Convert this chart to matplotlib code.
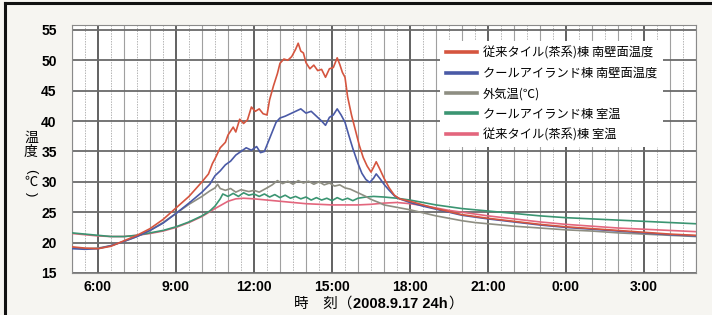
import matplotlib
matplotlib.use('Agg')
import matplotlib.pyplot as plt
from matplotlib.lines import Line2D

# ── Data (hours from 5:00 on 9/17 to 5:00 next day) ──────────────────────────
red_t = [5.0, 5.5, 6.0, 6.5, 7.0, 7.5, 8.0, 8.5, 9.0, 9.5, 10.0, 10.25, 10.4, 10.5, 10.7,
         10.9, 11.0, 11.2, 11.3, 11.45, 11.6, 11.75, 11.9, 12.05, 12.2, 12.35, 12.5, 12.6,
         12.75, 12.9, 13.0, 13.15, 13.3, 13.45, 13.6, 13.7, 13.8, 13.9, 14.0, 14.15, 14.3,
         14.45, 14.6, 14.75, 14.9, 15.05, 15.2, 15.3, 15.4, 15.5, 15.6, 15.75, 15.9, 16.05,
         16.2, 16.35, 16.5, 16.6, 16.7, 16.85, 17.0, 17.2, 17.4, 17.6, 18.0, 18.5, 19.0,
         19.5, 20.0, 20.5, 21.0, 22.0, 23.0, 24.0, 25.0, 26.0, 27.0, 28.0, 29.0]
red_v = [19.3, 19.1, 19.0, 19.4, 20.3, 21.2, 22.3, 23.8, 25.7, 27.6, 30.0, 31.3, 33.0, 33.8, 35.6,
         36.5, 37.7, 39.0, 38.2, 40.3, 39.6, 40.2, 42.3, 41.6, 42.0, 41.2, 41.0, 43.5,
         45.8, 47.8, 49.5, 50.2, 50.0, 50.6, 51.8, 52.8, 51.5, 51.2, 49.6, 48.6, 49.2,
         48.3, 48.5, 47.2, 48.6, 48.8, 50.4, 49.3, 48.0, 47.2, 44.0, 41.0, 38.5, 36.0,
         34.0, 32.6, 31.6, 32.4, 33.3, 32.0, 30.6, 29.0, 27.8, 27.2, 26.8, 26.2, 25.6,
         25.1, 24.6, 24.3, 24.0, 23.5, 23.0, 22.6, 22.3, 22.0, 21.7, 21.4, 21.2]

blue_t = [5.0, 5.5, 6.0, 6.5, 7.0, 7.5, 8.0, 8.5, 9.0, 9.5, 10.0, 10.3, 10.5, 10.7, 10.9,
          11.1, 11.3, 11.5, 11.7, 11.9, 12.1, 12.25, 12.4, 12.55, 12.7, 12.85, 13.0, 13.2,
          13.4, 13.6, 13.8, 14.0, 14.2, 14.4, 14.6, 14.75, 14.9, 15.05, 15.2, 15.35, 15.5,
          15.65, 15.8, 16.0, 16.15, 16.3, 16.45, 16.6, 16.7, 16.85, 17.0, 17.2, 17.4, 17.6,
          18.0, 18.5, 19.0, 19.5, 20.0, 20.5, 21.0, 22.0, 23.0, 24.0, 25.0, 26.0, 27.0,
          28.0, 29.0]
blue_v = [19.0, 18.9, 19.0, 19.5, 20.2, 21.0, 22.0, 23.2, 24.8, 26.5, 28.3, 29.6, 31.0, 31.8, 32.8,
          33.4, 34.4, 35.0, 35.6, 35.2, 35.8, 34.8, 35.0, 36.6, 38.2, 39.8, 40.5, 40.8,
          41.2, 41.6, 42.0, 41.3, 41.6, 40.8, 40.0, 39.3, 40.6, 41.0, 42.0, 41.0, 39.8,
          37.6, 35.5, 33.0, 31.4, 30.4, 29.9, 30.6, 31.3, 30.5, 29.6, 28.6, 27.7, 27.2,
          26.6, 26.0, 25.5, 25.0, 24.5, 24.2, 23.9, 23.4, 22.9, 22.5, 22.2, 21.9, 21.6,
          21.3, 21.1]

gray_t = [5.0, 5.5, 6.0, 6.5, 7.0, 7.5, 8.0, 8.5, 9.0, 9.5, 10.0, 10.3, 10.5, 10.6, 10.7,
          10.9, 11.1, 11.3, 11.5, 11.8, 12.0, 12.2, 12.5, 12.7, 12.9, 13.1, 13.3, 13.5,
          13.7, 13.9, 14.1, 14.3, 14.5, 14.7, 14.9, 15.1, 15.3, 15.5, 15.7, 15.9, 16.1,
          16.3, 16.5, 16.8, 17.0, 17.5, 18.0, 18.5, 19.0, 19.5, 20.0, 20.5, 21.0, 22.0,
          23.0, 24.0, 25.0, 26.0, 27.0, 28.0, 29.0]
gray_v = [19.2, 19.0, 19.1, 19.5, 20.2, 21.0, 22.0, 23.3, 24.8, 26.3, 27.6, 28.5, 29.0, 29.6, 28.9,
          28.6, 28.9, 28.3, 28.7, 28.4, 28.6, 28.3, 29.0, 29.5, 30.2, 29.7, 30.1, 29.6,
          30.2, 29.8, 30.1, 29.6, 30.0, 29.5, 29.8, 29.3, 29.5, 29.0, 28.8, 28.4, 28.0,
          27.6, 27.1, 26.6, 26.2, 25.8, 25.4, 24.9, 24.4, 24.0, 23.6, 23.3, 23.1, 22.7,
          22.4, 22.1, 21.9, 21.6, 21.4, 21.2, 21.0]

green_t = [5.0, 5.5, 6.0, 6.5, 7.0, 7.5, 8.0, 8.5, 9.0, 9.5, 10.0, 10.3, 10.5, 10.7, 10.8,
           11.0, 11.2, 11.4, 11.6, 11.8, 12.0, 12.2, 12.4, 12.6, 12.8, 13.0, 13.2, 13.4,
           13.6, 13.8, 14.0, 14.2, 14.4, 14.6, 14.8, 15.0, 15.2, 15.4, 15.6, 15.8, 16.0,
           16.3, 16.6, 17.0, 17.5, 18.0, 18.5, 19.0, 19.5, 20.0, 20.5, 21.0, 22.0, 23.0,
           24.0, 25.0, 26.0, 27.0, 28.0, 29.0]
green_v = [21.6, 21.4, 21.2, 21.0, 21.0, 21.2, 21.6, 22.0, 22.6, 23.4, 24.4, 25.2, 26.0, 27.2, 28.0,
           27.6, 28.1, 27.6, 28.2, 27.8, 28.0, 27.6, 28.0, 27.5, 27.9, 27.4, 27.8, 27.3,
           27.6, 27.2, 27.5, 27.0, 27.4, 27.0, 27.3, 26.9, 27.4, 27.0, 27.3, 26.9, 27.3,
           27.5, 27.6, 27.5, 27.3, 27.0, 26.6, 26.2, 25.9, 25.6, 25.4, 25.2, 24.8, 24.4,
           24.1, 23.9, 23.7, 23.5, 23.3, 23.1]

pink_t = [5.0, 5.5, 6.0, 6.5, 7.0, 7.5, 8.0, 8.5, 9.0, 9.5, 10.0, 10.5, 11.0, 11.3, 11.6,
          12.0, 12.5, 13.0, 13.5, 14.0, 14.5, 15.0, 15.5, 16.0, 16.5, 17.0, 17.5, 18.0,
          18.5, 19.0, 19.5, 20.0, 20.5, 21.0, 22.0, 23.0, 24.0, 25.0, 26.0, 27.0, 28.0, 29.0]
pink_v = [21.5, 21.3, 21.1, 21.0, 21.0, 21.2, 21.5, 21.9, 22.5, 23.3, 24.3, 25.6, 26.8, 27.2, 27.3,
          27.2, 27.0, 26.8, 26.6, 26.4, 26.3, 26.2, 26.2, 26.2, 26.3, 26.5, 26.6, 26.4,
          26.1, 25.7, 25.3, 25.0, 24.7, 24.4, 23.9, 23.4, 23.0, 22.7, 22.4, 22.2, 22.0, 21.8]

labels = ['従来タイル(茶系)棟 南壁面温度', 'クールアイランド棟 南壁面温度', '外気温(℃)',
          'クールアイランド棟 室温', '従来タイル(茶系)棟 室温']
x_ticks = [6, 9, 12, 15, 18, 21, 24, 27]
x_ticklabels = ['6:00', '9:00', '12:00', '15:00', '18:00', '21:00', '0:00', '3:00']
y_ticks = [15, 20, 25, 30, 35, 40, 45, 50, 55]

# ── Style ─────────────────────────────────────────────────────────────────────
BG = '#f6f5f1'
COLORS = ['#d5553f', '#4a5aa6', '#8e8e82', '#3b9572', '#e3667d']
JP = ['Noto Sans CJK JP', 'DejaVu Sans']
NUM = ['Liberation Sans', 'DejaVu Sans']

fig = plt.figure(figsize=(7.12, 3.15), dpi=100, facecolor=BG)
W, H = 712, 315
ax = fig.add_axes([72 / W, 1 - 273 / H, (696 - 72) / W, (273 - 25) / H])
ax.set_facecolor('white')

# frame lines of the original box (top and left)
fig.add_artist(Line2D([5 / W, 5 / W], [0, 1 - 3 / H], color='#111', lw=2.2))
fig.add_artist(Line2D([5 / W, 1], [1 - 3 / H, 1 - 3 / H], color='#111', lw=2.2))

# ── Grid ──────────────────────────────────────────────────────────────────────
for h in range(5, 30):
    ax.axvline(h + 0.5, color='#b5b5b5', lw=0.7, ls=(0, (1.5, 1.2)), zorder=0)
    if h % 3 == 0:
        ax.axvline(h, color='#555555', lw=1.3, zorder=0)
    else:
        ax.axvline(h, color='#a0a0a0', lw=0.8, zorder=0)
for y in y_ticks:
    ax.axhline(y, color='#6a6a6a', lw=1.3, zorder=0)

# ── Lines ─────────────────────────────────────────────────────────────────────
series = [(red_t, red_v), (blue_t, blue_v), (gray_t, gray_v), (green_t, green_v), (pink_t, pink_v)]
for i in [4, 3, 2, 1, 0]:
    t, v = series[i]
    ax.plot(t, v, color=COLORS[i], lw=1.2, zorder=8 - i)

ax.set_xlim(5, 29)
ax.set_ylim(15, 55.8)
ax.set_xticks(x_ticks)
ax.set_xticklabels(x_ticklabels)
ax.set_yticks(y_ticks)
ax.tick_params(axis='x', length=0, pad=5)
ax.tick_params(axis='y', length=0, pad=11)
for lab in ax.get_xticklabels() + ax.get_yticklabels():
    lab.set_fontfamily(NUM)
    lab.set_fontweight('bold')
    lab.set_fontsize(10)
for s in ax.spines.values():
    s.set_color('#8a8a8a')
    s.set_linewidth(0.8)

# ── Legend ────────────────────────────────────────────────────────────────────
leg_handles = [Line2D([], [], color=c, lw=2.6) for c in COLORS]
leg = ax.legend(leg_handles, labels, loc='upper left',
                bbox_to_anchor=(434 / W, 1 - 35 / H), bbox_transform=fig.transFigure,
                prop={'family': JP, 'size': 8.8}, frameon=True, fancybox=False,
                facecolor='white', edgecolor='none', framealpha=1,
                handlelength=2.6, handletextpad=0.45, labelspacing=0.6, borderpad=0.45)
leg.set_zorder(10)

# ── Axis labels ───────────────────────────────────────────────────────────────
fig.text(31 / W, 1 - 145 / H, '温\n度', family=JP, fontsize=10, ha='center', va='center',
         linespacing=1.0)
for ch, yp in [('(', 171), (')', 194)]:
    fig.text(31 / W, 1 - yp / H, ch, family=NUM, fontsize=9.5, ha='center', va='center',
             rotation=-90, rotation_mode='anchor')
fig.text(31 / W, 1 - 182 / H, '℃', family=JP, fontsize=9.5, ha='center', va='center')

fig.canvas.draw()
r = fig.canvas.get_renderer()
fig.text(352 / W, 1 - 304 / H, '時　刻（', family=JP, fontsize=10.5, ha='right', va='center')
t2 = fig.text(353 / W, 1 - 304 / H, '2008.9.17 24h', family=NUM, fontsize=10.5,
              fontweight='bold', ha='left', va='center')
bb = t2.get_window_extent(r)
fig.text((bb.x1 + 1) / W, 1 - 304 / H, '）', family=JP, fontsize=10.5, ha='left', va='center')

fig.savefig('out.png', dpi=100, facecolor=BG)
